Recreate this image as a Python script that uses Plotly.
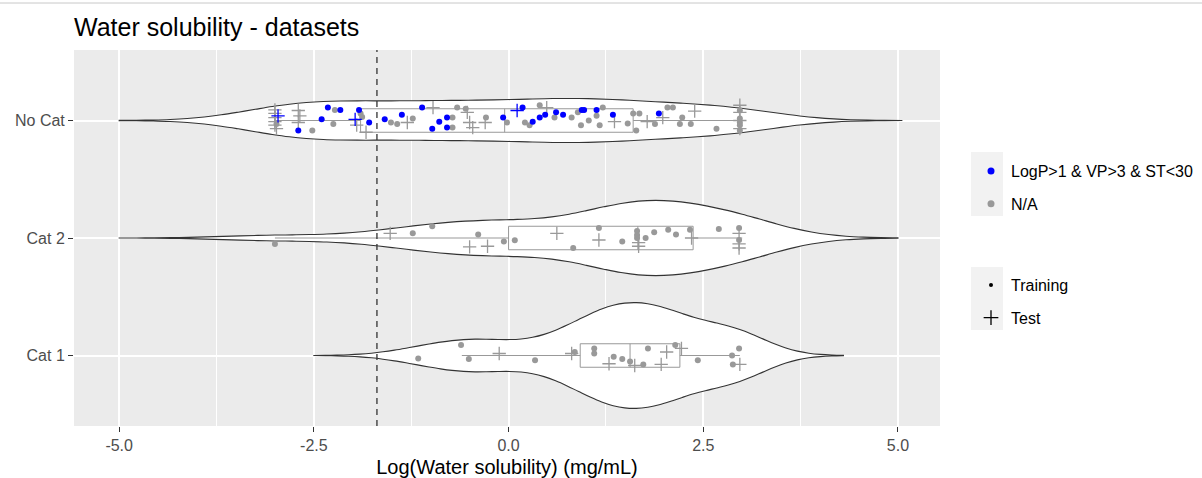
import plotly.graph_objects as go

# ---------------- data ----------------
CATEGORIES = ["Cat 1", "Cat 2", "No Cat"]
CAT_POS = {"Cat 1": 1, "Cat 2": 2, "No Cat": 3}
FLAG_LABELS = ["LogP>1 & VP>3 & ST<30", "N/A"]
SET_LABELS = ["Training", "Test"]
X_TICKS = [-5.0, -2.5, 0.0, 2.5, 5.0]
X_TICKTEXT = ["-5.0", "-2.5", "0.0", "2.5", "5.0"]
THRESHOLD = -1.69

# No Cat -- blue (LogP>1 & VP>3 & ST<30), training
nocat_blue_train_x = [-2.70, -2.40, -2.32, -2.16, -1.92, -1.79, -1.59, -1.37, -1.11, -0.98, -0.89, -0.79, -0.79,
                      -0.07, 0.18, 0.31, 0.40, 0.47, 0.61, 0.70, 0.94, 0.97, 1.13, 1.34, 1.93]
nocat_blue_train_j = [-0.085, 0.01, 0.11, 0.09, 0.09, -0.017, 0.01, 0.05, 0.11, -0.07, -0.01, 0.025, -0.06,
                      0.025, 0.11, -0.01, 0.025, 0.05, 0.07, 0.05, 0.09, 0.09, 0.09, 0.05, 0.06]
# No Cat -- blue, test
nocat_blue_test_x = [-2.96, -1.97, 0.11]
nocat_blue_test_j = [0.04, 0.01, 0.085]
# No Cat -- N/A, training
nocat_na_train_x = [-2.98, -2.52, -2.25, -2.23, -1.90, -1.88, -1.51, -1.43, -1.23, -0.72, -0.72, -0.66, -0.55,
                    -0.29, -0.02, 0.21, 0.27, 0.40, 0.59, 0.81, 0.89, 0.93, 1.03, 1.13, 1.17, 1.21, 1.53, 1.60,
                    1.68, 1.64, 1.88, 2.04, 2.11, 2.20, 2.23, 2.34, 2.67, 2.97, 2.97, 2.97, 2.97, 2.97]
nocat_na_train_j = [-0.03, -0.085, -0.03, 0.09, 0.06, 0.03, -0.017, -0.03, 0.017, 0.025, -0.06, 0.11, 0.10,
                    0.025, -0.017, -0.017, -0.04, 0.13, 0.025, 0.025, 0.07, -0.04, 0.0, 0.04, -0.04, 0.11, -0.025,
                    0.06, 0.06, -0.085, -0.03, 0.11, 0.11, -0.03, 0.025, -0.03, -0.07, 0.085, 0.017, -0.017,
                    -0.04, -0.085]
# No Cat -- N/A, test
nocat_na_test_x = [-3.00, -3.00, -3.00, -3.00, -3.00, -2.98, -2.70, -2.68, -2.70, -1.95, -1.83, -1.30, -0.97,
                   -0.53, -0.50, -0.46, -0.30, 0.49, 1.36, 1.78, 1.98, 2.39, 2.97, 2.97, 2.97, 2.97]
nocat_na_test_j = [0.09, 0.06, 0.025, -0.01, -0.04, -0.07, 0.085, 0.04, -0.017, -0.04, -0.10, -0.017, 0.11,
                   0.07, -0.017, -0.06, -0.017, 0.11, -0.01, -0.01, 0.025, 0.08, 0.13, 0.07, 0.0, -0.07]

# Cat 2 -- all N/A
cat2_train_x = [-3.00, -1.23, -0.98, -0.39, -0.06, 0.08, 0.83, 1.16, 1.46, 1.65, 1.65, 1.65, 1.76, 1.87, 2.05,
                2.15, 2.33, 2.70, 2.96, 2.96]
cat2_train_j = [-0.05, 0.04, 0.10, 0.03, -0.03, -0.02, -0.085, 0.085, -0.03, 0.06, 0.025, 0.0, 0.0, 0.05, 0.07,
                0.03, 0.07, 0.076, 0.085, -0.017]
cat2_test_x = [-1.52, -0.50, -0.27, 0.62, 1.16, 1.67, 1.67, 2.35, 2.96, 2.96, 2.96]
cat2_test_j = [0.04, -0.076, -0.07, 0.04, -0.017, -0.04, -0.07, 0.0, 0.04, -0.05, -0.085]

# Cat 1 -- all N/A
cat1_train_x = [-1.16, -0.61, -0.51, 0.34, 0.85, 1.10, 1.10, 1.35, 1.46, 1.56, 1.73, 1.79, 2.14, 2.43, 2.87,
                2.96, 2.88]
cat1_train_j = [-0.025, 0.09, -0.03, -0.04, 0.03, 0.06, 0.017, -0.01, -0.03, -0.05, -0.076, 0.06, 0.09, -0.04,
                0.0, 0.06, -0.076]
cat1_test_x = [-0.12, 0.81, 1.29, 1.62, 1.96, 2.03, 2.22, 2.97]
cat1_test_j = [0.017, 0.017, -0.07, -0.085, -0.076, 0.03, 0.06, -0.076]

# box-plot summary statistics per category (No Cat, Cat 2, Cat 1)
box_cats = ["No Cat", "Cat 2", "Cat 1"]
box_q1 = [-1.90, 0.00, 0.92]
box_median = [-0.05, 1.66, 1.56]
box_q3 = [1.60, 2.37, 2.20]
box_lower = [-3.00, -3.00, -0.60]
box_upper = [3.00, 3.00, 2.97]

# violin density settings (ggplot trim = FALSE, area scaling)
violin_bw = {"No Cat": 0.667, "Cat 2": 0.667, "Cat 1": 0.445}
violin_span = {"No Cat": [-5.0, 5.05], "Cat 2": [-5.0, 5.0], "Cat 1": [-2.5, 4.3]}
violin_width = {"No Cat": 0.375, "Cat 2": 0.64, "Cat 1": 0.90}

# ---------------- styles ----------------
BLUE = "#0000FF"
GREY = "#999999"
FONT = "Liberation Sans, Arial, sans-serif"

row_values = {
    "No Cat": nocat_blue_train_x + nocat_blue_test_x + nocat_na_train_x + nocat_na_test_x,
    "Cat 2": cat2_train_x + cat2_test_x,
    "Cat 1": cat1_train_x + cat1_test_x,
}

fig = go.Figure()

for cat in ["No Cat", "Cat 2", "Cat 1"]:
    fig.add_trace(go.Violin(
        x=row_values[cat], y0=CAT_POS[cat], orientation="h", side="both",
        bandwidth=violin_bw[cat], spanmode="manual", span=violin_span[cat],
        width=violin_width[cat], scalemode="width", points=False,
        fillcolor="white", line=dict(color="#333333", width=1.1),
        box=dict(visible=False), meanline=dict(visible=False),
        showlegend=False, hoverinfo="skip"))

fig.add_trace(go.Box(
    y=[CAT_POS[c] for c in box_cats], q1=box_q1, median=box_median, q3=box_q3,
    lowerfence=box_lower, upperfence=box_upper, orientation="h", width=0.2,
    fillcolor="rgba(0,0,0,0)", line=dict(color=GREY, width=1), whiskerwidth=0,
    boxpoints=False, showlegend=False, hoverinfo="skip"))


def add_points(xs, js, cat, color, test):
    ys = [CAT_POS[cat] + j for j in js]
    if test:
        marker = dict(symbol="cross-thin", size=9.5, color=color, line=dict(color=color, width=1.3))
    else:
        marker = dict(symbol="circle", size=6, color=color, line=dict(width=0))
    fig.add_trace(go.Scatter(x=xs, y=ys, mode="markers", marker=marker, showlegend=False, hoverinfo="x"))


add_points(nocat_na_train_x, nocat_na_train_j, "No Cat", GREY, False)
add_points(nocat_na_test_x, nocat_na_test_j, "No Cat", GREY, True)
add_points(cat2_train_x, cat2_train_j, "Cat 2", GREY, False)
add_points(cat2_test_x, cat2_test_j, "Cat 2", GREY, True)
add_points(cat1_train_x, cat1_train_j, "Cat 1", GREY, False)
add_points(cat1_test_x, cat1_test_j, "Cat 1", GREY, True)
add_points(nocat_blue_train_x, nocat_blue_train_j, "No Cat", BLUE, False)
add_points(nocat_blue_test_x, nocat_blue_test_j, "No Cat", BLUE, True)

# legend entries
fig.add_trace(go.Scatter(x=[None], y=[None], mode="markers", name=FLAG_LABELS[0], legend="legend",
                         legendgroup="c1", marker=dict(symbol="circle", size=7, color=BLUE)))
fig.add_trace(go.Scatter(x=[None], y=[None], mode="markers", name=FLAG_LABELS[1], legend="legend",
                         legendgroup="c2", marker=dict(symbol="circle", size=7, color=GREY)))
fig.add_trace(go.Scatter(x=[None], y=[None], mode="markers", name=SET_LABELS[0], legend="legend2",
                         legendgroup="s1", marker=dict(symbol="circle", size=4, color="black")))
fig.add_trace(go.Scatter(x=[None], y=[None], mode="markers", name=SET_LABELS[1], legend="legend2",
                         legendgroup="s2", marker=dict(symbol="cross-thin", size=10.5, color="black",
                                                       line=dict(color="black", width=1.3))))

L, R, T, B = 74, 262, 50, 52
W, H = 1202, 478
PW, PH = W - L - R, H - T - B


def px_x(p):
    return (p - L) / PW


def px_y(p):
    return (H - B - p) / PH


shapes = [
    dict(type="line", xref="x", yref="paper", x0=THRESHOLD, x1=THRESHOLD, y0=0, y1=1,
         line=dict(color="#333333", width=1.3, dash="6px,5px"), layer="above"),
    dict(type="rect", xref="paper", yref="paper", x0=px_x(971), x1=px_x(1003), y0=px_y(216), y1=px_y(152),
         fillcolor="#F2F2F2", line=dict(width=0), layer="below"),
    dict(type="rect", xref="paper", yref="paper", x0=px_x(971), x1=px_x(1003), y0=px_y(330), y1=px_y(267),
         fillcolor="#F2F2F2", line=dict(width=0), layer="below"),
    dict(type="line", xref="paper", yref="paper", x0=px_x(0), x1=px_x(W), y0=px_y(3), y1=px_y(3),
         line=dict(color="#C8C8C8", width=1), layer="below"),
]

fig.update_layout(
    width=W, height=H, margin=dict(l=L, r=R, t=T, b=B, autoexpand=False),
    paper_bgcolor="white", plot_bgcolor="#EBEBEB",
    font=dict(family=FONT, size=16, color="#4D4D4D"),
    violinmode="overlay", boxmode="overlay",
    title=dict(text="Water solubility - datasets", font=dict(family=FONT, size=25, color="black"),
               x=0, xref="paper", xanchor="left", yref="container", y=1 - 27 / H, yanchor="middle"),
    xaxis=dict(range=[-5.58, 5.54], tickvals=X_TICKS, ticktext=X_TICKTEXT, ticks="outside", ticklen=5,
               tickwidth=1.2, tickcolor="#333333", tickfont=dict(size=16, color="#4D4D4D"),
               showgrid=True, gridcolor="white", gridwidth=1.5, zeroline=False, showline=False,
               minor=dict(tickvals=[-3.75, -1.25, 1.25, 3.75], showgrid=True, gridcolor="white",
                          gridwidth=0.7, ticks=""),
               title=dict(text="Log(Water solubility) (mg/mL)", font=dict(size=20, color="black"), standoff=6)),
    yaxis=dict(range=[0.4, 3.6], tickvals=[CAT_POS[c] for c in CATEGORIES], ticktext=CATEGORIES,
               ticks="outside", ticklen=5, tickwidth=1.2, tickcolor="#333333",
               tickfont=dict(size=16, color="#4D4D4D"), showgrid=True, gridcolor="white", gridwidth=1.5,
               zeroline=False, showline=False),
    legend=dict(x=px_x(971), y=px_y(154), xanchor="left", yanchor="top", tracegroupgap=9,
                bgcolor="rgba(0,0,0,0)", font=dict(size=16, color="black"), itemsizing="trace"),
    legend2=dict(x=px_x(971), y=px_y(268), xanchor="left", yanchor="top", tracegroupgap=9,
                 bgcolor="rgba(0,0,0,0)", font=dict(size=16, color="black"), itemsizing="trace"),
    shapes=shapes,
)

fig.write_html("out.html", config={"displayModeBar": False},
               post_script="document.body.style.margin='0';document.body.style.overflow='hidden';")
